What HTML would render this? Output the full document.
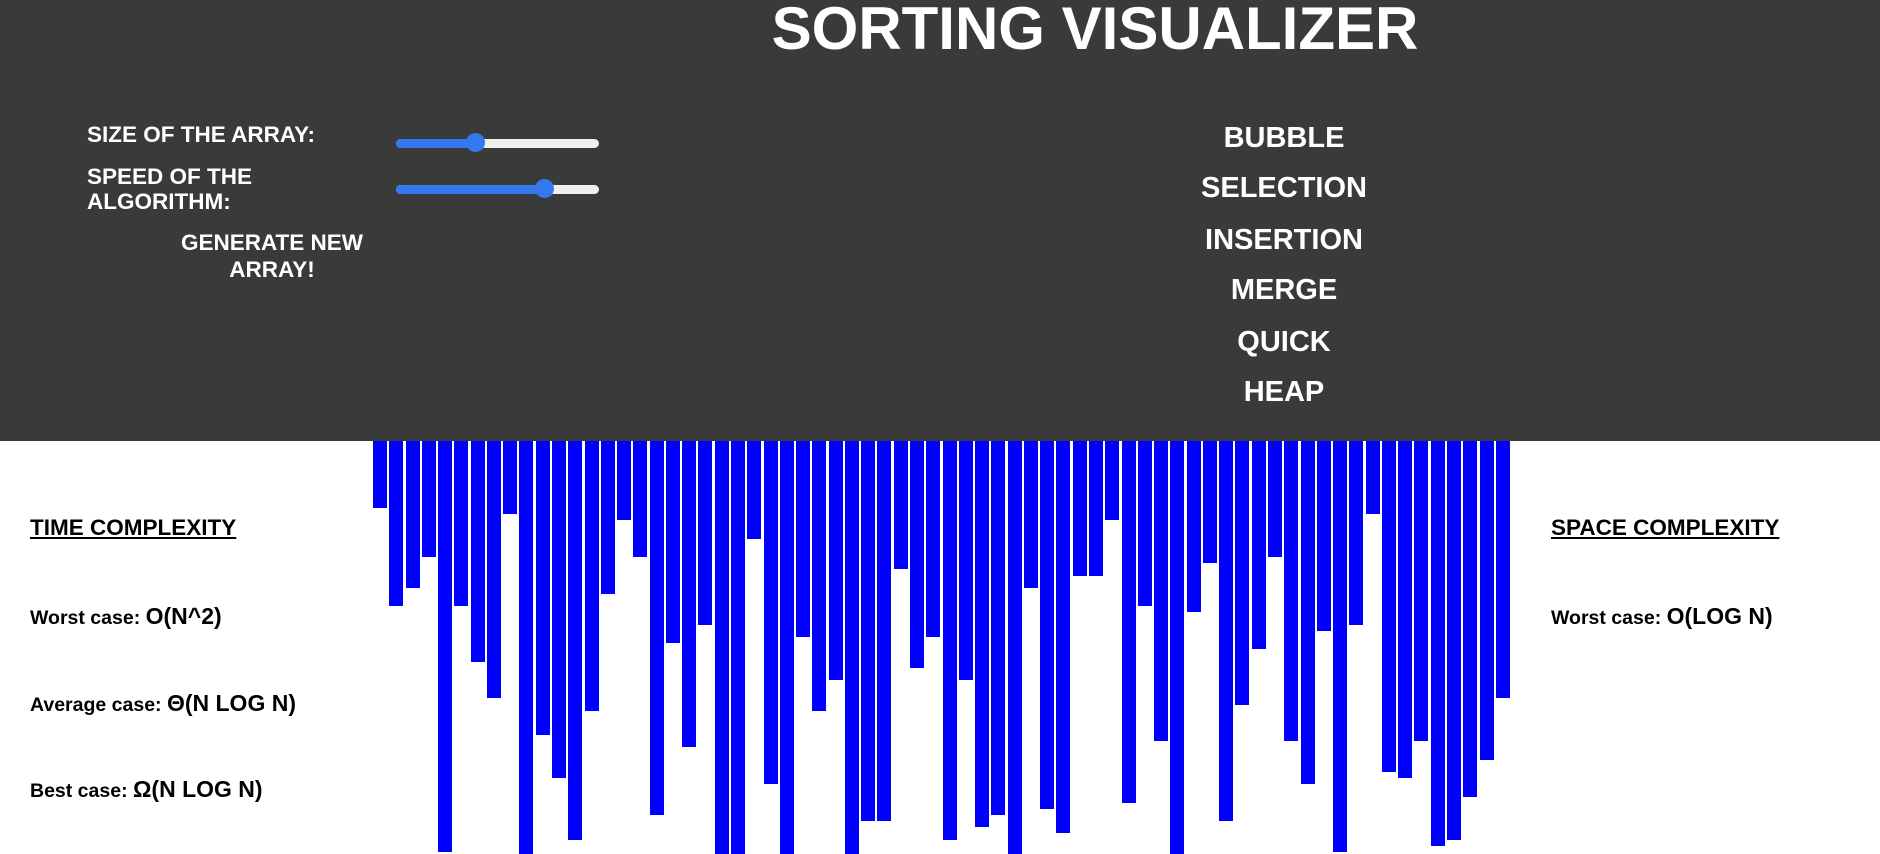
<!DOCTYPE html>
<html><head><meta charset="utf-8"><style>
*{margin:0;padding:0;box-sizing:border-box}
body{width:1880px;height:854px;overflow:hidden;background:#fff;position:relative;font-family:"Liberation Sans",Arial,sans-serif;font-weight:bold}
#hdr{position:absolute;left:0;top:0;width:1880px;height:441px;background:#3a3a3a}
.t{position:absolute;white-space:nowrap;line-height:1}
.w{color:#fff}
.menu{position:absolute;left:1134px;width:300px;text-align:center;color:#fff;font-size:29px;line-height:1}
.trk{position:absolute;left:396px;width:203px;height:9px;border-radius:5px;background:#efefef}
.fill{position:absolute;left:396px;height:9px;border-radius:5px;background:#3478f0}
.th{position:absolute;width:19px;height:19px;border-radius:50%;background:#3478f0}
.b{position:absolute;top:441px;width:14px;background:#0000ff}
.u{text-decoration:underline}
</style></head><body>
<div id="hdr"></div>
<div class="t w" style="left:0;width:2190px;text-align:center;top:-1px;font-size:60px;">SORTING VISUALIZER</div>
<div class="t w" style="left:87px;top:124px;font-size:22.5px">SIZE OF THE ARRAY:</div>
<div class="t w" style="left:87px;top:164px;font-size:22.5px;line-height:25px;white-space:normal;width:220px">SPEED OF THE<br>ALGORITHM:</div>
<div class="t w" style="left:162px;width:220px;text-align:center;top:229px;font-size:22.5px;line-height:27px">GENERATE NEW<br>ARRAY!</div>
<div class="trk" style="top:139px"></div><div class="fill" style="top:139px;width:80px"></div><div class="th" style="left:466px;top:133px"></div>
<div class="trk" style="top:185px"></div><div class="fill" style="top:185px;width:150px"></div><div class="th" style="left:535px;top:179px"></div>
<div class="menu" style="top:124px">BUBBLE</div>
<div class="menu" style="top:174px">SELECTION</div>
<div class="menu" style="top:226px">INSERTION</div>
<div class="menu" style="top:276px">MERGE</div>
<div class="menu" style="top:328px">QUICK</div>
<div class="menu" style="top:378px">HEAP</div>
<div class="t u" style="left:30px;top:517px;font-size:22.5px">TIME COMPLEXITY</div>
<div class="t" style="left:30px;top:605px;font-size:19.5px">Worst case: <span style="font-size:23px">O(N^2)</span></div>
<div class="t" style="left:30px;top:692px;font-size:19.5px">Average case: <span style="font-size:23px">Θ(N LOG N)</span></div>
<div class="t" style="left:30px;top:778px;font-size:19.5px">Best case: <span style="font-size:23px">Ω(N LOG N)</span></div>
<div class="t u" style="left:1551px;top:517px;font-size:22.5px">SPACE COMPLEXITY</div>
<div class="t" style="left:1551px;top:605px;font-size:19.5px">Worst case: <span style="font-size:23px">O(LOG N)</span></div>
<div class="b" style="left:373px;height:67px"></div>
<div class="b" style="left:389px;height:165px"></div>
<div class="b" style="left:406px;height:147px"></div>
<div class="b" style="left:422px;height:116px"></div>
<div class="b" style="left:438px;height:411px"></div>
<div class="b" style="left:454px;height:165px"></div>
<div class="b" style="left:471px;height:221px"></div>
<div class="b" style="left:487px;height:257px"></div>
<div class="b" style="left:503px;height:73px"></div>
<div class="b" style="left:519px;height:413px"></div>
<div class="b" style="left:536px;height:294px"></div>
<div class="b" style="left:552px;height:337px"></div>
<div class="b" style="left:568px;height:399px"></div>
<div class="b" style="left:585px;height:270px"></div>
<div class="b" style="left:601px;height:153px"></div>
<div class="b" style="left:617px;height:79px"></div>
<div class="b" style="left:633px;height:116px"></div>
<div class="b" style="left:650px;height:374px"></div>
<div class="b" style="left:666px;height:202px"></div>
<div class="b" style="left:682px;height:306px"></div>
<div class="b" style="left:698px;height:184px"></div>
<div class="b" style="left:715px;height:413px"></div>
<div class="b" style="left:731px;height:413px"></div>
<div class="b" style="left:747px;height:98px"></div>
<div class="b" style="left:764px;height:343px"></div>
<div class="b" style="left:780px;height:413px"></div>
<div class="b" style="left:796px;height:196px"></div>
<div class="b" style="left:812px;height:270px"></div>
<div class="b" style="left:829px;height:239px"></div>
<div class="b" style="left:845px;height:413px"></div>
<div class="b" style="left:861px;height:380px"></div>
<div class="b" style="left:877px;height:380px"></div>
<div class="b" style="left:894px;height:128px"></div>
<div class="b" style="left:910px;height:227px"></div>
<div class="b" style="left:926px;height:196px"></div>
<div class="b" style="left:943px;height:399px"></div>
<div class="b" style="left:959px;height:239px"></div>
<div class="b" style="left:975px;height:386px"></div>
<div class="b" style="left:991px;height:374px"></div>
<div class="b" style="left:1008px;height:413px"></div>
<div class="b" style="left:1024px;height:147px"></div>
<div class="b" style="left:1040px;height:368px"></div>
<div class="b" style="left:1056px;height:392px"></div>
<div class="b" style="left:1073px;height:135px"></div>
<div class="b" style="left:1089px;height:135px"></div>
<div class="b" style="left:1105px;height:79px"></div>
<div class="b" style="left:1122px;height:362px"></div>
<div class="b" style="left:1138px;height:165px"></div>
<div class="b" style="left:1154px;height:300px"></div>
<div class="b" style="left:1170px;height:413px"></div>
<div class="b" style="left:1187px;height:171px"></div>
<div class="b" style="left:1203px;height:122px"></div>
<div class="b" style="left:1219px;height:380px"></div>
<div class="b" style="left:1235px;height:264px"></div>
<div class="b" style="left:1252px;height:208px"></div>
<div class="b" style="left:1268px;height:116px"></div>
<div class="b" style="left:1284px;height:300px"></div>
<div class="b" style="left:1301px;height:343px"></div>
<div class="b" style="left:1317px;height:190px"></div>
<div class="b" style="left:1333px;height:411px"></div>
<div class="b" style="left:1349px;height:184px"></div>
<div class="b" style="left:1366px;height:73px"></div>
<div class="b" style="left:1382px;height:331px"></div>
<div class="b" style="left:1398px;height:337px"></div>
<div class="b" style="left:1414px;height:300px"></div>
<div class="b" style="left:1431px;height:405px"></div>
<div class="b" style="left:1447px;height:399px"></div>
<div class="b" style="left:1463px;height:356px"></div>
<div class="b" style="left:1480px;height:319px"></div>
<div class="b" style="left:1496px;height:257px"></div>
</body></html>
